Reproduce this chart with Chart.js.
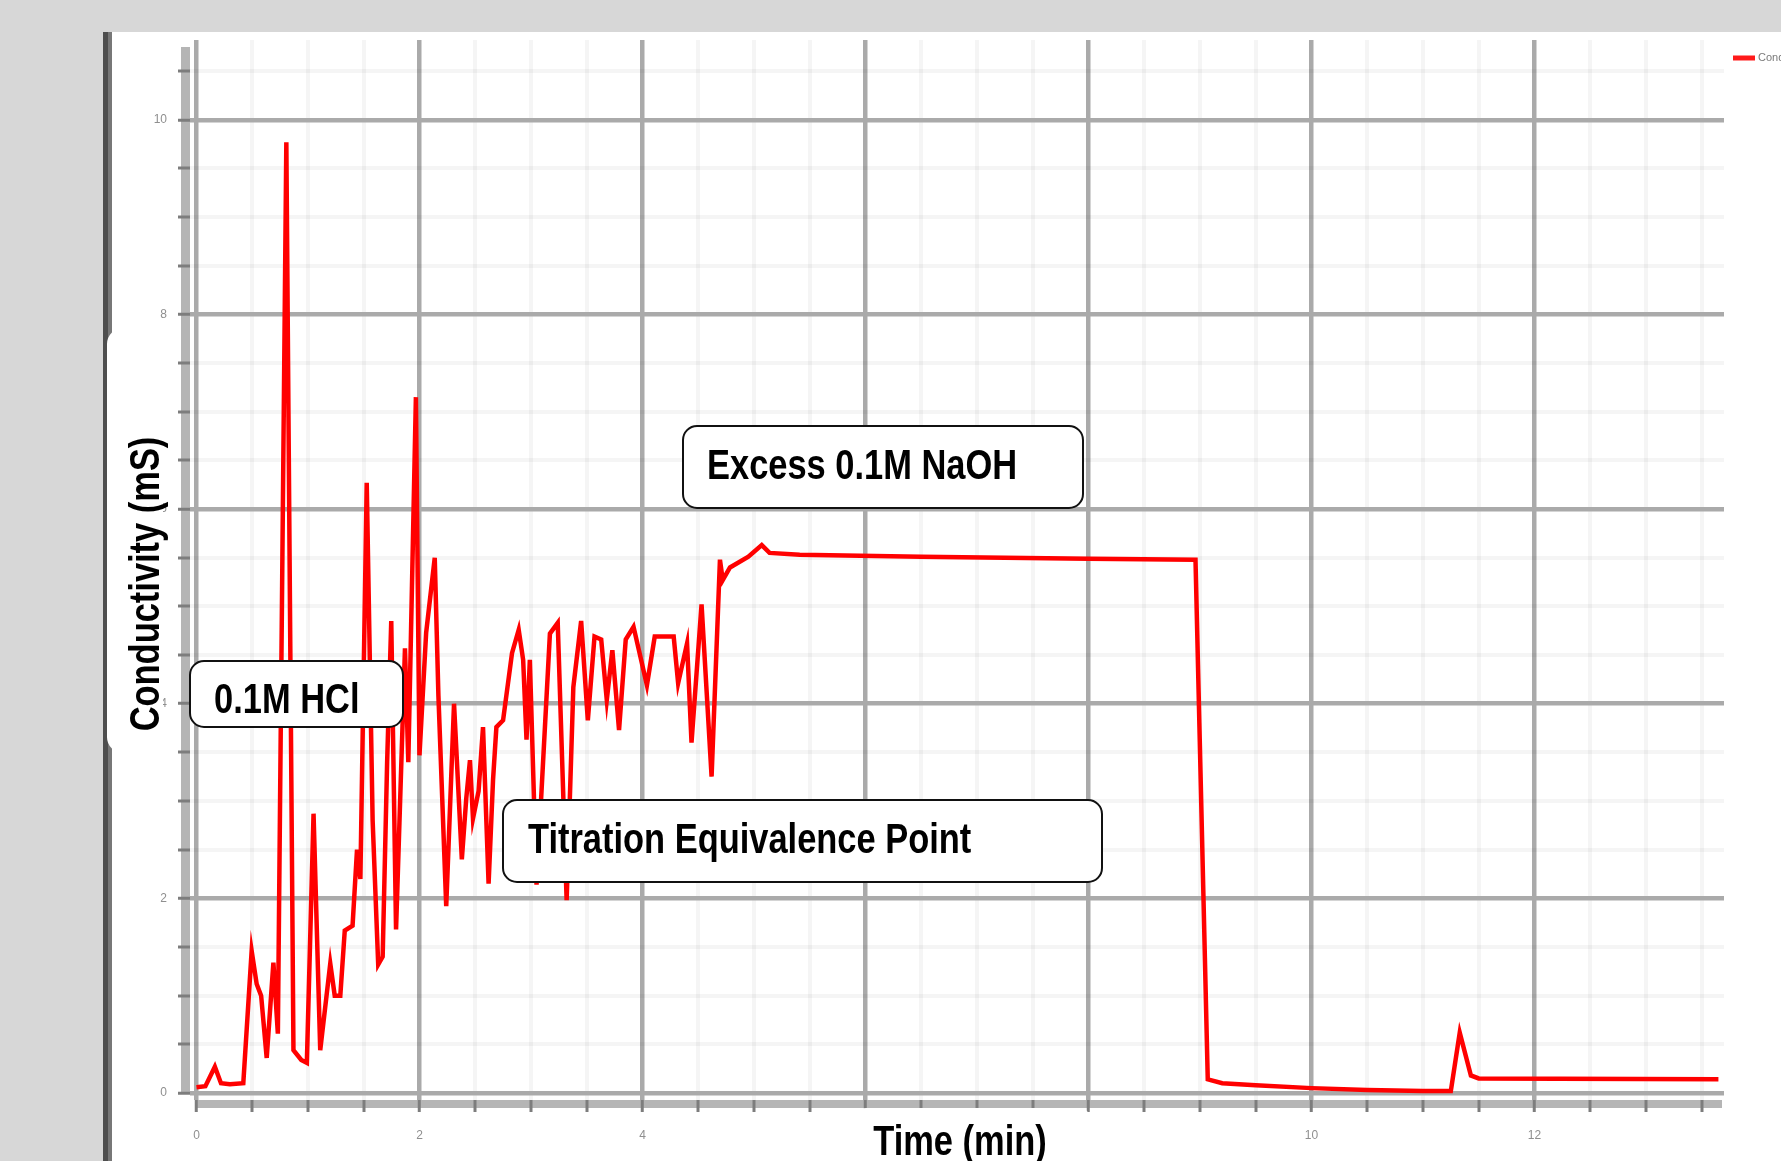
<!DOCTYPE html>
<html>
<head>
<meta charset="utf-8">
<script src="https://cdn.jsdelivr.net/npm/chart.js@4.4.1/dist/chart.umd.min.js"></script>
<style>
html,body{margin:0;padding:0;background:#d7d7d7;overflow:hidden;}
canvas{display:block;}
</style>
</head>
<body>
<canvas id="c" width="1781" height="1161"></canvas>
<script>
// ---------- data ----------
const seriesLabel = 'Conductivity';
const timeMin = [0.00,0.08,0.165,0.22,0.30,0.42,0.495,0.54,0.58,0.63,0.69,0.73,0.806,0.87,0.94,0.99,1.05,1.11,1.20,1.24,1.29,1.33,1.40,1.44,1.47,1.527,1.58,1.63,1.67,1.71,1.747,1.79,1.87,1.90,1.968,2.00,2.06,2.137,2.17,2.24,2.31,2.38,2.42,2.453,2.48,2.53,2.57,2.62,2.66,2.69,2.75,2.83,2.89,2.93,2.96,2.99,3.05,3.17,3.24,3.32,3.38,3.45,3.51,3.57,3.63,3.68,3.73,3.79,3.85,3.92,4.04,4.11,4.28,4.32,4.40,4.44,4.53,4.62,4.695,4.72,4.785,4.95,5.07,5.14,5.41,6.50,8.00,8.96,9.07,9.20,9.50,10.00,10.50,11.00,11.25,11.33,11.43,11.50,13.65];
const conductivity = [0.06,0.07,0.27,0.10,0.09,0.10,1.46,1.12,1.00,0.36,1.34,0.61,9.77,0.44,0.34,0.31,2.87,0.44,1.33,1.00,1.00,1.67,1.72,2.50,2.20,6.27,2.80,1.32,1.40,3.40,4.85,1.68,4.57,3.40,7.15,3.47,4.73,5.50,4.08,1.92,4.00,2.40,3.03,3.42,2.82,3.10,3.76,2.15,3.22,3.76,3.83,4.52,4.76,4.45,3.63,4.45,2.14,4.72,4.83,1.98,4.17,4.85,3.83,4.69,4.66,4.04,4.55,3.73,4.66,4.79,4.19,4.69,4.69,4.21,4.62,3.60,5.02,3.25,5.48,5.27,5.40,5.51,5.63,5.55,5.53,5.51,5.49,5.48,0.14,0.10,0.08,0.05,0.03,0.02,0.02,0.62,0.18,0.15,0.14];
const xTickValues = [0,0.5,1,1.5,2,2.5,3,3.5,4,4.5,5,5.5,6,6.5,7,7.5,8,8.5,9,9.5,10,10.5,11,11.5,12,12.5,13,13.5];
const yTickValues = [0,0.5,1,1.5,2,2.5,3,3.5,4,4.5,5,5.5,6,6.5,7,7.5,8,8.5,9,9.5,10,10.5];
const xTickLabels = [0,2,4,6,8,10,12];
const yTickLabels = [0,2,4,6,8,10];
const xTitle = 'Time (min)';
const yTitle = 'Conductivity (mS)';
const noteTexts = ['0.1M HCl','Excess 0.1M NaOH','Titration Equivalence Point'];

// ---------- layout / style ----------
const notesLayout = [
  {x:190, y:661, w:213, h:66, tx:214, ty:701},
  {x:683, y:426, w:400, h:82, tx:707, ty:467},
  {x:503, y:800, w:599, h:82, tx:528, ty:841}
];
const cv = document.getElementById('c');
const ctx0 = cv.getContext('2d');
function hasNarrow(){
  ctx0.font = 'bold 42px "Liberation Sans Narrow", monospace';
  const a = ctx0.measureText('Titration Equivalence').width;
  ctx0.font = 'bold 42px monospace';
  const b = ctx0.measureText('Titration Equivalence').width;
  return Math.abs(a-b) > 1;
}
const NARROW = hasNarrow();
const SQ = NARROW ? 1 : 0.82;
const titleFamily = NARROW ? '"Liberation Sans Narrow", "Liberation Sans", sans-serif' : '"Liberation Sans", Arial, sans-serif';

const isMajor = v => Math.abs(v/2 - Math.round(v/2)) < 1e-9;
function rr(ctx, x, y, w, h, r){
  ctx.beginPath();
  ctx.roundRect(x, y, w, h, r);
}

function patchTitle(scale, box, dx, dy, rotated){
  if (scale.__patched) return;
  const orig = scale.drawTitle;
  scale.drawTitle = function(){
    const c = this.ctx;
    c.save();
    c.fillStyle = '#ffffff';
    rr(c, box.x, box.y, box.w, box.h, box.r);
    c.fill();
    c.restore();
    c.save();
    const cx = box.cx, cy = box.cy;
    c.translate(dx, dy);
    c.translate(cx, cy);
    if (rotated) c.scale(1, SQ); else c.scale(SQ, 1);
    c.translate(-cx, -cy);
    orig.call(this);
    c.restore();
  };
  scale.__patched = true;
}

const bgPlugin = {
  id: 'bg',
  beforeDraw(chart){
    const c = chart.ctx;
    c.save();
    c.fillStyle = '#d7d7d7';
    c.fillRect(0, 0, chart.width, chart.height);
    c.fillStyle = '#ffffff';
    c.fillRect(112, 32, chart.width - 112, chart.height - 32);
    c.fillStyle = '#4e4e4e';
    c.fillRect(103, 32, 5, chart.height - 32);
    c.fillStyle = '#777777';
    c.fillRect(108, 32, 4, chart.height - 32);
    const xs = chart.scales.x, ys = chart.scales.y;
    const y0 = ys.getPixelForValue(0);
    const x0 = xs.getPixelForValue(0);
    c.fillStyle = '#b5b5b5';
    c.fillRect(181, 47, 9, y0 - 47);
    c.fillRect(x0, 1100, chart.chartArea.right - 2 - x0, 8);
    c.restore();
    patchTitle(ys, {x:107, y:328, w:56, h:425, r:16, cx:147, cy:570}, 0, 14, true);
    patchTitle(xs, {x:852, y:1108, w:240, h:80, r:[14,14,0,0], cx:957, cy:1140}, 3, 3.5, false);
  },
  afterDatasetsDraw(chart){
    const c = chart.ctx;
    c.save();
    noteTexts.forEach((t, i) => {
      const L = notesLayout[i];
      rr(c, L.x, L.y, L.w, L.h, 14);
      c.fillStyle = '#ffffff';
      c.fill();
      c.lineWidth = 2;
      c.strokeStyle = '#111111';
      c.stroke();
      c.save();
      c.translate(L.tx, L.ty);
      c.scale(SQ, 1);
      c.font = 'bold 42px ' + titleFamily;
      c.fillStyle = '#000000';
      c.textAlign = 'left';
      c.textBaseline = 'middle';
      c.fillText(t, 0, 0);
      c.restore();
    });
    c.restore();
  },
  afterDraw(chart){
    const c = chart.ctx;
    c.save();
    c.strokeStyle = '#ff1a1a';
    c.lineWidth = 5;
    c.beginPath();
    c.moveTo(1733, 58);
    c.lineTo(1755, 58);
    c.stroke();
    c.fillStyle = '#7a7a7a';
    c.font = '11px "Liberation Sans", sans-serif';
    c.textBaseline = 'middle';
    c.fillText(seriesLabel, 1758, 58);
    c.restore();
  }
};

const gridStyle = {
  color: c => isMajor(c.tick.value) ? '#aaaaaa' : 'rgba(0,0,0,0.038)',
  lineWidth: c => isMajor(c.tick.value) ? 4.5 : 4,
  tickColor: '#7d7d7d',
  tickWidth: 3,
  tickLength: 12,
  drawTicks: true,
  z: -1
};

new Chart(cv, {
  type: 'line',
  data: {
    datasets: [{
      label: seriesLabel,
      data: timeMin.map((t, i) => ({x: t, y: conductivity[i]})),
      borderColor: '#ff0000',
      backgroundColor: '#ff0000',
      borderWidth: 4.5,
      pointRadius: 0,
      tension: 0,
      fill: false
    }]
  },
  options: {
    responsive: false,
    animation: false,
    devicePixelRatio: 1,
    layout: {padding: {top: 40, right: 57, left: 0, bottom: 0}},
    plugins: {legend: {display: false}, tooltip: {enabled: false}, title: {display: false}},
    scales: {
      x: {
        type: 'linear',
        min: -0.058,
        max: 13.70,
        afterBuildTicks: s => { s.ticks = xTickValues.map(v => ({value: v})); },
        afterFit: s => { s.height = 61; },
        grid: gridStyle,
        border: {display: false},
        ticks: {
          z: -2, autoSkip: false, maxRotation: 0, padding: 16,
          color: '#8f8f8f', font: {size: 12, family: '"Liberation Sans", sans-serif'},
          callback: v => xTickLabels.includes(v) ? String(v) : ''
        },
        title: {display: true, text: xTitle, color: '#000000', padding: 0,
          font: {family: titleFamily, size: 42, weight: 'bold', lineHeight: 1}}
      },
      y: {
        type: 'linear',
        min: -0.072,
        max: 10.82,
        afterBuildTicks: s => { s.ticks = yTickValues.map(v => ({value: v})); },
        afterFit: s => { s.width = 190; },
        grid: gridStyle,
        border: {display: false},
        ticks: {
          z: -2, autoSkip: false, padding: 11,
          color: '#8f8f8f', font: {size: 12, family: '"Liberation Sans", sans-serif'},
          callback: v => yTickLabels.includes(v) ? String(v) : ''
        },
        title: {display: true, text: yTitle, color: '#000000', padding: {top: 126, bottom: 0},
          font: {family: titleFamily, size: 42, weight: 'bold', lineHeight: 1}}
      }
    }
  },
  plugins: [bgPlugin]
});
</script>
</body>
</html>
